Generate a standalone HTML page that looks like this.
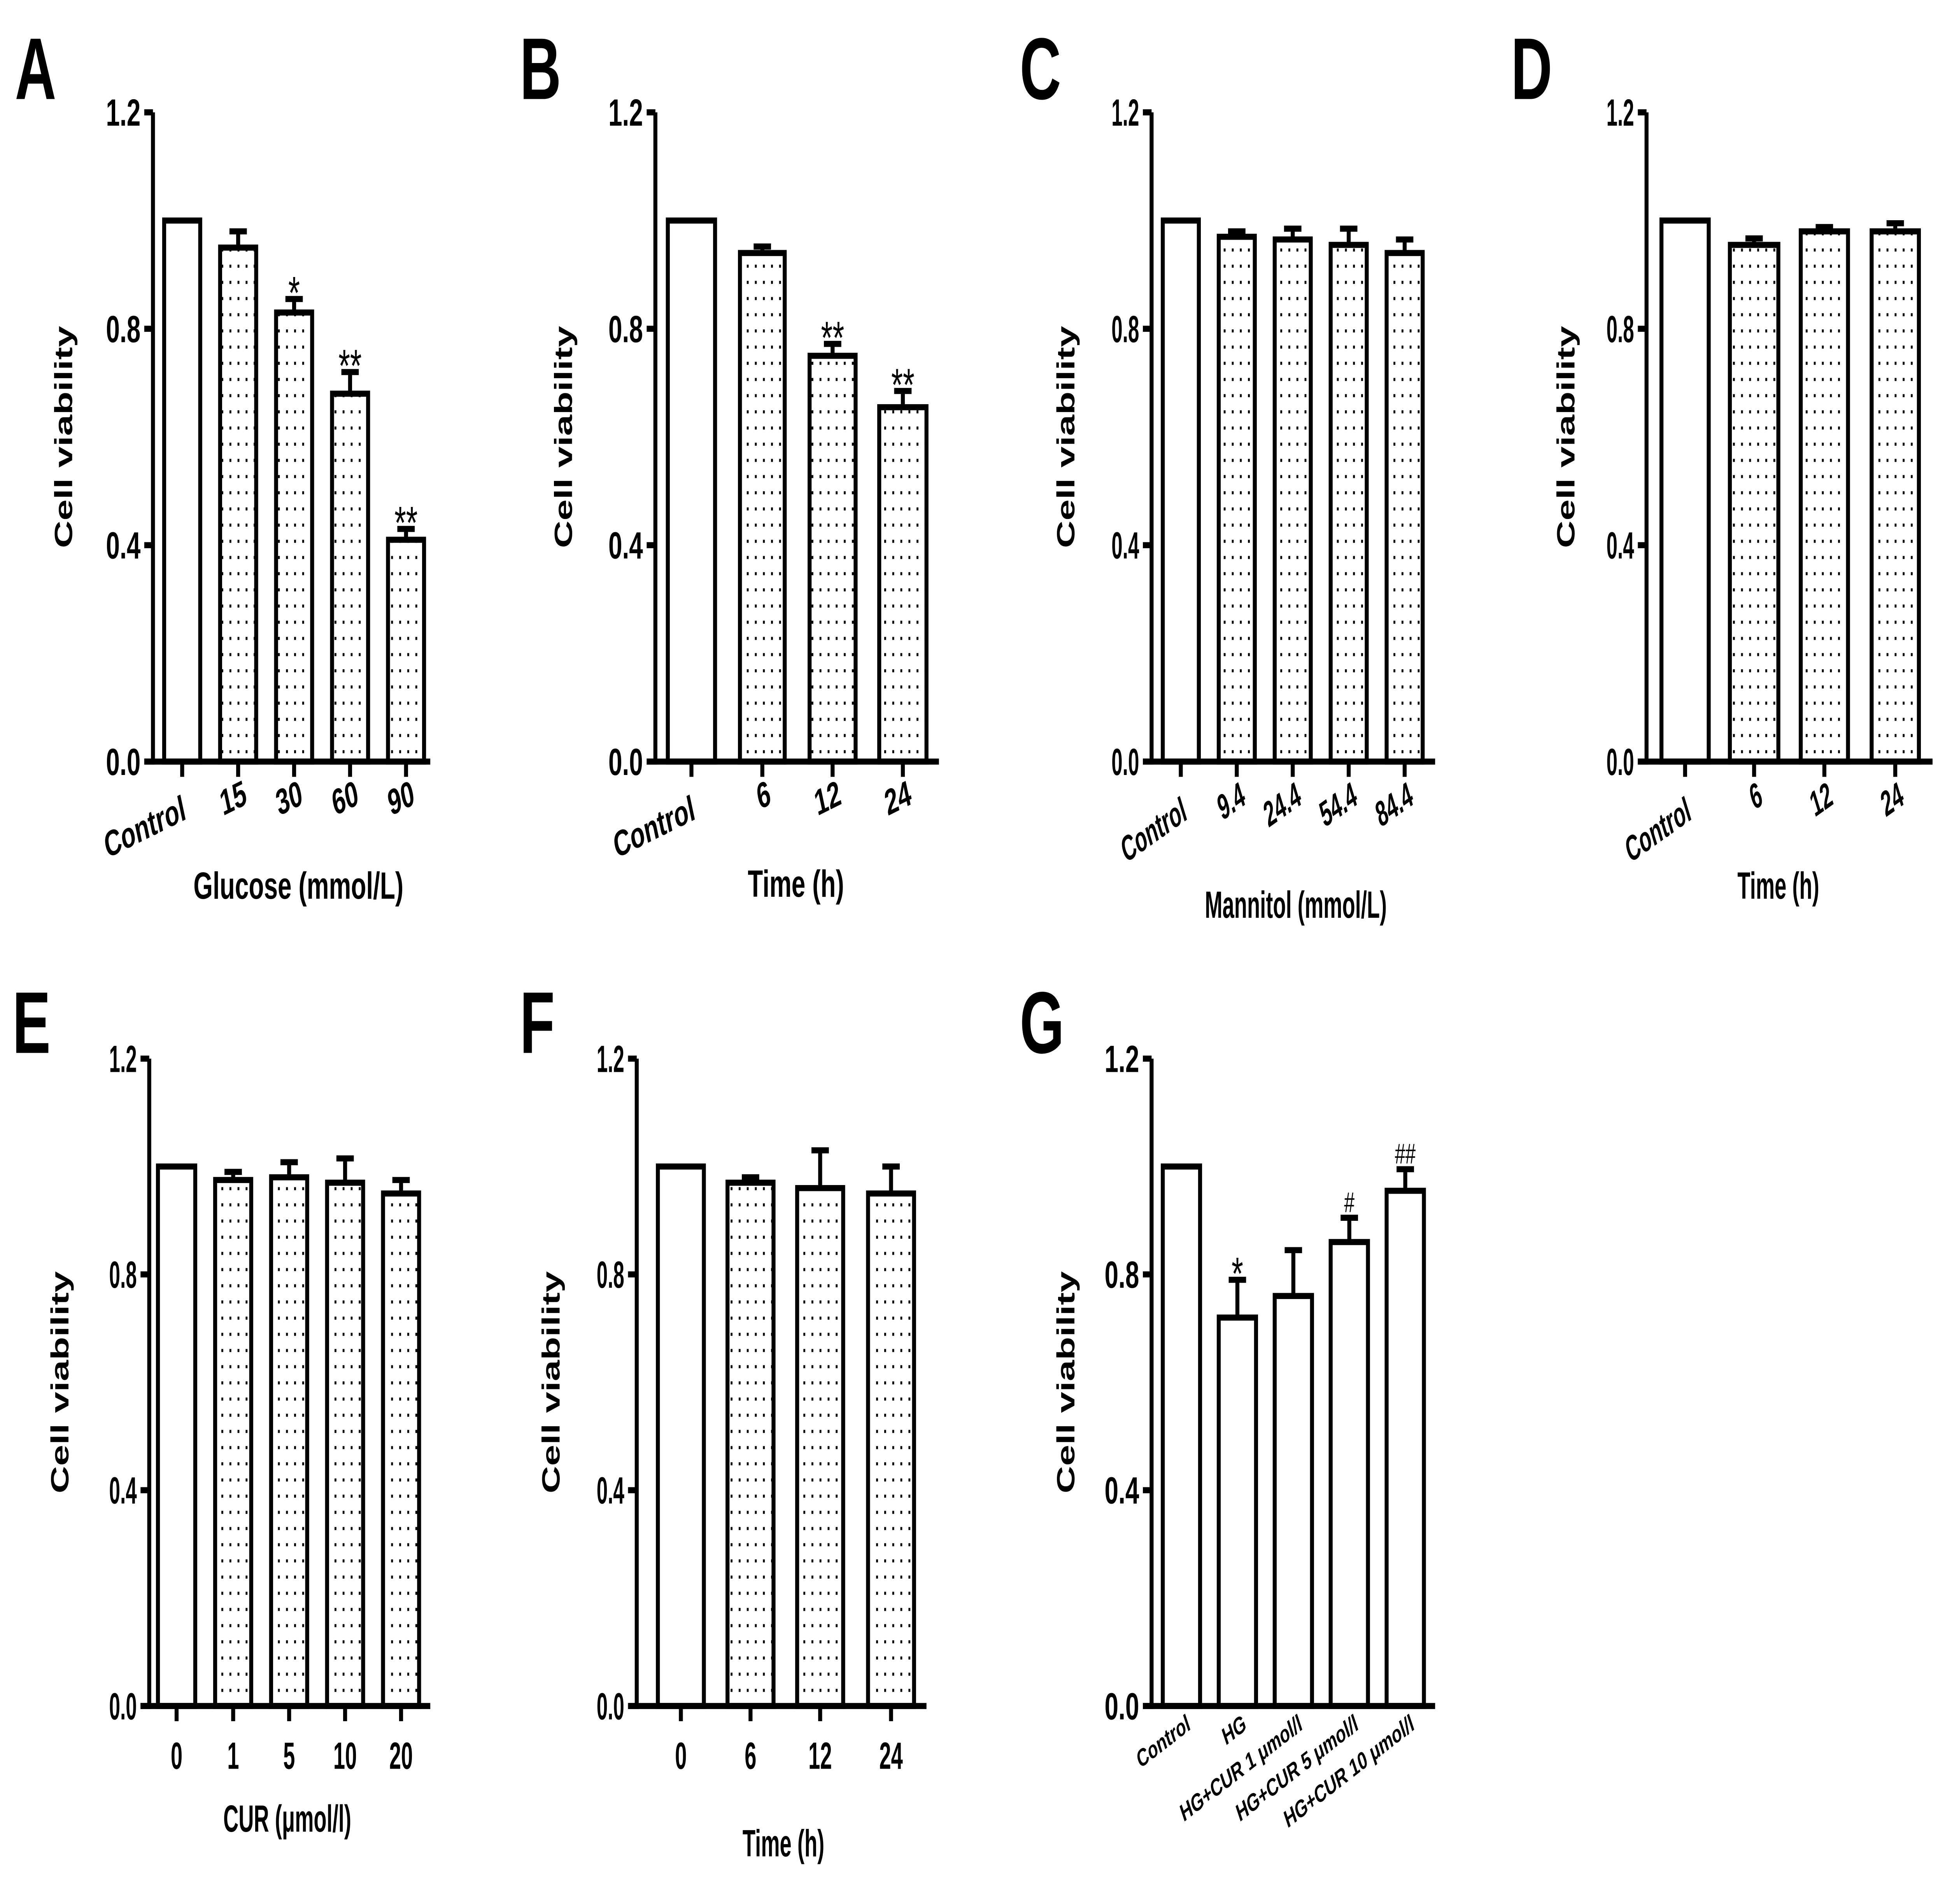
<!DOCTYPE html>
<html><head><meta charset="utf-8"><style>
html,body{margin:0;padding:0;background:#fff;width:100%;height:100%;overflow:hidden;}
svg{display:block;width:100vw;height:100vh;}
text{font-family:"Liberation Sans",Arial,sans-serif;fill:#000;}
</style></head>
<body>
<svg id="fig" xmlns="http://www.w3.org/2000/svg" viewBox="0 0 1564 1000" preserveAspectRatio="none">
<defs>
<pattern id="dots" patternUnits="userSpaceOnUse" width="6.5" height="8.5">
<rect x="2.5" y="3" width="1.5" height="1.6" fill="#000"/>
</pattern>
</defs>
<g id="root"></g>
</svg>
<script>
// Panel A
const aCats=["Control","15","30","60","90"];
const aVals=[1.0,0.95,0.83,0.68,0.41];
const aErr=[0,0.03,0.025,0.04,0.02];
const aSig=["","","*","**","**"];
// Panel B
const bCats=["Control","6","12","24"];
const bVals=[1.0,0.94,0.75,0.655];
const bErr=[0,0.012,0.022,0.03];
const bSig=["","","**","**"];
// Panel C
const cCats=["Control","9.4","24.4","54.4","84.4"];
const cVals=[1.0,0.97,0.965,0.955,0.94];
const cErr=[0,0.01,0.02,0.03,0.025];
// Panel D
const dCats=["Control","6","12","24"];
const dVals=[1.0,0.955,0.98,0.98];
const dErr=[0,0.012,0.008,0.015];
// Panel E
const eCats=["0","1","5","10","20"];
const eVals=[1.0,0.975,0.98,0.97,0.95];
const eErr=[0,0.015,0.028,0.045,0.025];
// Panel F
const fCats=["0","6","12","24"];
const fVals=[1.0,0.97,0.96,0.95];
const fErr=[0,0.01,0.07,0.05];
// Panel G
const gCats=["Control","HG","HG+CUR 1 μmol/l","HG+CUR 5 μmol/l","HG+CUR 10 μmol/l"];
const gVals=[1.0,0.72,0.76,0.86,0.955];
const gErr=[0,0.07,0.085,0.045,0.04];
const gSig=["","*","","#","##"];
const yTicks=[0,0.4,0.8,1.2];
const yTickLabels=["0.0","0.4","0.8","1.2"];

const NS="http://www.w3.org/2000/svg";
const root=document.getElementById('root');
function el(tag,attrs,parent,txt){const e=document.createElementNS(NS,tag);for(const k in attrs){if(attrs[k]!=='')e.setAttribute(k,attrs[k]);}if(txt!==undefined)e.textContent=txt;(parent||root).appendChild(e);return e;}

function panel(o){
  const g=el('g',{});
  
  
  const ys=v=>o.y0-(v/1.2)*(o.y0-o.y12);
  const lw=3.2;
  const lt=el('text',{x:o.lx,y:o.ly,'font-size':46,'font-weight':'bold'},g,o.letter);
  
  
  const ya=el('line',{x1:o.ax,y1:o.y12,x2:o.ax,y2:o.y0+lw/2,stroke:'#000','stroke-width':lw},g);
  
  
  yTicks.forEach((t,i)=>{
    const y=ys(t);
    el('line',{x1:o.ax-7,y1:y,x2:o.ax,y2:y,stroke:'#000','stroke-width':lw},g);
    const tl=el('text',{x:o.ax-10,y:y+7,'font-size':20,'font-weight':'bold','text-anchor':'end',transform:o.cond?`translate(${o.ax-10},0) scale(0.8,1) translate(${-(o.ax-10)},0)`:''},g,yTickLabels[i]);
    
    
  });
  const yt=el('text',{x:0,y:0,'font-size':20,'font-weight':'bold','text-anchor':'middle',transform:`translate(${o.ytx},${ys(0.6)}) rotate(-90)`},g,'Cell viability');
  
  
  o.vals.forEach((v,i)=>{
    const x=o.bx[i], w=o.bw[i];
    const top=ys(v);
    const fill=(i===0||o.allWhite)?'#fff':'url(#dots)';
    const r=el('rect',{x:x,y:top,width:w,height:o.y0-top,fill:fill,stroke:'#000','stroke-width':lw},g);
    
    
    const e=o.err[i];
    if(e>0){
      const cx=x+w/2, ye=ys(v+e);
      const eb=el('path',{d:`M${cx},${top} V${ye} M${cx-7},${ye} H${cx+7}`,stroke:'#000','stroke-width':lw,fill:'none'},g);
      
      
    }
    if(o.sig&&o.sig[i]){
      const cx=x+w/2, ye=ys(v+e);
      const serif=o.sig[i].indexOf('#')>=0;
      const st=el('text',{x:cx,y:ye-3+(serif?0:8),'font-size':serif?15:24,'text-anchor':'middle','font-family':serif?'Liberation Serif, serif':'Liberation Sans, sans-serif'},g,o.sig[i]);
      
      
    }
    if(o.ticks){
      el('line',{x1:x+w/2,y1:o.y0,x2:x+w/2,y2:o.y0+8,stroke:'#000','stroke-width':lw},g);
    }
    const lab=o.cats[i];
    let t;
    if(o.labMode==='flat'){
      t=el('text',{x:x+w/2,y:o.y0+33,'font-size':20,'font-weight':'bold','text-anchor':'middle',transform:`translate(${x+w/2},0) scale(0.85,1) translate(${-(x+w/2)},0)`},g,lab);
    } else if(o.labMode==='serif'){
      t=el('text',{x:0,y:0,'font-size':13,'font-weight':'bold','text-anchor':'end','font-family':'Liberation Serif, serif',transform:`translate(${x+w/2+8},${o.y0+12}) rotate(-27)`},g,lab);
    } else {
      t=el('text',{x:0,y:0,'font-size':19,'font-weight':'bold','text-anchor':'end',transform:`translate(${x+w/2+(i===0?o.c0dx:8)},${o.y0+(i===0?30:22)}) rotate(${o.rot})${o.cond?' scale(0.82,1)':''}`},g,lab);
    }
    
    
  });
  const xa=el('line',{x1:o.ax-7,y1:o.y0,x2:o.xend,y2:o.y0,stroke:'#000','stroke-width':lw},g);
  
  
  if(o.xtitle){
    const xt=el('text',{x:o.xtx,y:o.xty,'font-size':20,'font-weight':'bold','text-anchor':'middle',transform:o.cond?`translate(${o.xtx},0) scale(0.85,1) translate(${-o.xtx},0)`:''},g,o.xtitle);
    
    
  }
}

panel({letter:'A',lx:12,ly:52,ax:123,y0:400,y12:59,ytx:58,cats:aCats,vals:aVals,err:aErr,sig:aSig,
  bx:[132,177,222,267,312],bw:[29,29,29,29,29],xend:346,ticks:true,rot:-18,c0dx:4,
  xtitle:'Glucose  (mmol/L)',xtx:240,xty:472});
panel({letter:'B',lx:418,ly:52,ax:527,y0:400,y12:59,ytx:460,cats:bCats,vals:bVals,err:bErr,sig:bSig,
  bx:[537,595,651,707],bw:[38,36,37,38],xend:755,ticks:true,rot:-18,c0dx:4,
  xtitle:'Time (h)',xtx:640,xty:471});
panel({letter:'C',lx:820,ly:52,ax:926,y0:400,y12:59,ytx:864,cats:cCats,vals:cVals,err:cErr,
  bx:[935,980,1025,1070,1115],bw:[29,29,29,29,29],xend:1154,ticks:true,rot:-25,c0dx:6,cond:true,
  xtitle:'Mannitol (mmol/L)',xtx:1042,xty:482});
panel({letter:'D',lx:1215,ly:52,ax:1324,y0:400,y12:59,ytx:1266,cats:dCats,vals:dVals,err:dErr,
  bx:[1336,1391,1448,1505],bw:[38,39,38,38],xend:1554,ticks:true,rot:-25,c0dx:6,cond:true,
  xtitle:'Time (h)',xtx:1430,xty:472});
panel({letter:'E',lx:10,ly:553,ax:120,y0:896,y12:556,ytx:55,cats:eCats,vals:eVals,err:eErr,
  bx:[127,173,218,263,308],bw:[30,29,29,29,29],xend:346,ticks:true,labMode:'flat',cond:true,
  xtitle:'CUR  (μmol/l)',xtx:231,xty:962});
panel({letter:'F',lx:418,ly:553,ax:512,y0:896,y12:556,ytx:450,cats:fCats,vals:fVals,err:fErr,
  bx:[529,585,641,698],bw:[37,37,37,37],xend:745,ticks:true,labMode:'flat',cond:true,
  xtitle:'Time (h)',xtx:630,xty:975});
panel({letter:'G',lx:820,ly:553,ax:926,y0:896,y12:556,ytx:864,cats:gCats,vals:gVals,err:gErr,sig:gSig,
  bx:[935,980,1025,1070,1115],bw:[30,30,30,30,30],xend:1154,ticks:false,labMode:'serif',allWhite:true});
</script>
</body></html>
